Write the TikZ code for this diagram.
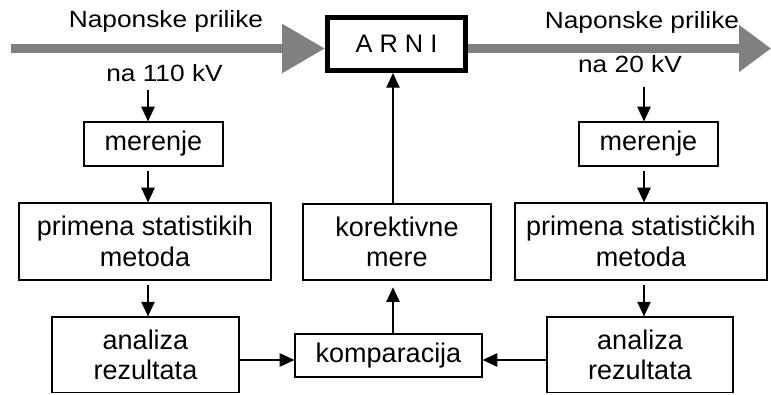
\documentclass[tikz,border=0pt]{standalone}
\usepackage{fontspec}
\setmainfont{Liberation Sans}
\newfontfamily\widefont{Liberation Sans}[FakeStretch=1.12]
\usetikzlibrary{arrows.meta}

\begin{document}
\begin{tikzpicture}[x=0.75pt,y=0.75pt,
  font=\fontsize{20.25}{22.9}\selectfont,
  box/.style={draw,line width=0.9pt,inner sep=0pt,align=center},
  lbl/.style={anchor=base,font=\widefont\fontsize{17.6}{20}\selectfont},
  arr/.style={-{Triangle[length=11pt,width=10pt]},line width=1pt},
  down/.style={arr,shorten <=3pt},
  big/.style={gray,line width=6.75pt}]
\useasboundingbox (0,0) rectangle (771,394);

\node[box,line width=3.75pt,minimum width=103.5pt,minimum height=39.75pt,font=\fontsize{19}{22}\selectfont] (arni) at (396.5,350) {A R N I};
\node[box,minimum width=104.25pt,minimum height=33pt] (merL) at (153.5,250) {merenje};
\node[box,minimum width=189pt,minimum height=57.75pt] (stL) at (145,152.5) {primena statistikih\\metoda};
\node[box,minimum width=140.25pt,minimum height=56.6pt] (anL) at (145.5,39.25) {analiza\\rezultata};
\node[box,minimum width=140.25pt,minimum height=32.25pt] (kom) at (388.5,38.5) {komparacija};
\node[box,minimum width=141pt,minimum height=57pt] (kor) at (397,152) {korektivne\\mere};
\node[box,minimum width=104.25pt,minimum height=33pt] (merR) at (648.5,250) {merenje};
\node[box,minimum width=189pt,minimum height=57.75pt] (stR) at (641,152.5) {primena statističkih\\metoda};
\node[box,minimum width=139.5pt,minimum height=56.6pt] (anR) at (640,39.25) {analiza\\rezultata};

\coordinate (in) at (11,345.5);
\coordinate (out) at (771,345.5);
\draw[big,-{Triangle[length=32.25pt,width=35.25pt]}] (in) -- (in -| arni.west);
\draw[big,-{Triangle[length=24pt,width=33.75pt]}] (arni.east |- out) -- (out);

\node[lbl] (napL) at (166,366.7) {Naponske prilike};
\node[lbl] (naL) at (164.5,312.5) {na 110 kV};
\node[lbl] (napR) at (642,365.7) {Naponske prilike};
\node[lbl] (naR) at (630,321.5) {na 20 kV};

\coordinate (cL) at (148,0);
\coordinate (cM) at (393,0);
\coordinate (cR) at (644,0);
\coordinate (rK) at (0,34);

\draw[down] (naL.south -| cL) -- (merL.north -| cL);
\draw[down] (merL.south -| cL) -- (stL.north -| cL);
\draw[down] (stL.south -| cL) -- (anL.north -| cL);
\draw[down,shorten <=7pt] (naR.south -| cR) -- (merR.north -| cR);
\draw[down] (merR.south -| cR) -- (stR.north -| cR);
\draw[down] (stR.south -| cR) -- (anR.north -| cR);
\draw[arr] (anL.east |- rK) -- (kom.west |- rK);
\draw[arr] (anR.west |- rK) -- (kom.east |- rK);
\draw[arr,shorten >=5pt] (kom.north -| cM) -- (kor.south -| cM);
\draw[arr] (kor.north -| cM) -- (arni.south -| cM);
\end{tikzpicture}
\end{document}
